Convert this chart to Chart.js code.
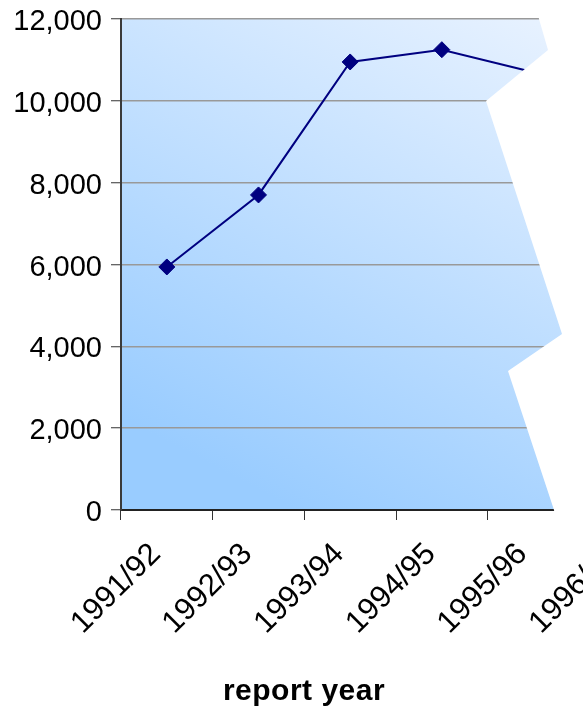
<!DOCTYPE html>
<html>
<head>
<meta charset="utf-8">
<script src="https://cdn.jsdelivr.net/npm/chart.js@4/dist/chart.umd.min.js"></script>
<style>
  html, body { margin: 0; padding: 0; background: #ffffff; overflow: hidden; width: 583px; height: 708px; }
  #wrap { position: relative; width: 700px; height: 708px; }
</style>
</head>
<body>
<div id="wrap"><canvas id="chart"></canvas></div>
<script>
// Report years along the category axis (the last one runs off the torn edge)
const reportYears = ['1991/92', '1992/93', '1993/94', '1994/95', '1995/96', '1996/97'];
// Reports received per year
const reportCounts = [5940, 7700, 10950, 11250, 10700, null];
// Value axis ticks
const yTickValues = [0, 2000, 4000, 6000, 8000, 10000, 12000];
const xAxisTitle = 'report year';

const FONT = '"Liberation Sans", Arial, sans-serif';

// Blue gradient behind the plot area, light at the upper right, deeper at the lower left
const plotBackground = {
  id: 'plotBackground',
  beforeDraw(chart) {
    const { ctx, chartArea: a } = chart;
    const w = a.right - a.left, h = a.bottom - a.top;
    const g = ctx.createLinearGradient(a.left + 0.79 * w, a.top, a.left + 0.32 * w, a.bottom);
    g.addColorStop(0, '#e8f2ff');
    g.addColorStop(1, '#99ccff');
    ctx.save();
    ctx.fillStyle = g;
    ctx.fillRect(a.left, a.top, w, h);
    ctx.restore();
  }
};

// Jagged torn-paper edge cutting off the right-hand side of the plot
const tornEdge = {
  id: 'tornEdge',
  afterDatasetsDraw(chart) {
    const { ctx, width } = chart;
    const pts = [[536, 0], [539, 19], [548, 50], [486, 101], [562, 334], [508, 371], [554, 510], [556, 524], [width, 524], [width, 0]];
    ctx.save();
    ctx.fillStyle = '#ffffff';
    ctx.beginPath();
    pts.forEach(([x, y], i) => (i ? ctx.lineTo(x, y) : ctx.moveTo(x, y)));
    ctx.closePath();
    ctx.fill();
    ctx.restore();
  }
};

// Category axis caption
const axisCaption = {
  id: 'axisCaption',
  afterDraw(chart) {
    const { ctx } = chart;
    ctx.save();
    ctx.font = 'bold 30px ' + FONT;
    if ('letterSpacing' in ctx) ctx.letterSpacing = '0.5px';
    ctx.fillStyle = '#000000';
    ctx.textAlign = 'center';
    ctx.textBaseline = 'alphabetic';
    ctx.fillText(xAxisTitle, 304, 700);
    ctx.restore();
  }
};

new Chart(document.getElementById('chart'), {
  type: 'line',
  data: {
    labels: reportYears,
    datasets: [{
      data: reportCounts,
      borderColor: '#000080',
      backgroundColor: '#000080',
      borderWidth: 2,
      pointStyle: 'rectRot',
      pointRadius: 8,
      pointHoverRadius: 8,
      pointBorderWidth: 1,
      tension: 0,
      fill: false
    }]
  },
  options: {
    responsive: true,
    maintainAspectRatio: false,
    animation: false,
    devicePixelRatio: 1,
    layout: { padding: { top: 19, right: 29, bottom: 0, left: 0 } },
    plugins: { legend: { display: false }, tooltip: { enabled: false } },
    scales: {
      x: {
        type: 'category',
        offset: true,
        afterFit(s) { s.height = 198; },
        grid: { offset: true, drawOnChartArea: false, drawTicks: true, tickLength: 10, tickColor: '#333333', tickWidth: 1 },
        border: { color: '#222222', width: 2 },
        ticks: {
          autoSkip: false,
          minRotation: 45,
          maxRotation: 45,
          padding: 16,
          labelOffset: -11,
          color: '#000000',
          font: { family: FONT, size: 31 }
        }
      },
      y: {
        min: 0,
        max: 12000,
        afterFit(s) { s.width = 121; s.paddingTop = 0; s.paddingBottom = 0; },
        afterBuildTicks(s) { s.ticks = yTickValues.map(v => ({ value: v })); },
        grid: { color: '#999999', lineWidth: 1.5, tickLength: 10, tickColor: '#333333', tickWidth: 1 },
        border: { color: '#3a3a3a', width: 2 },
        ticks: {
          padding: 9,
          labelOffset: 3,
          color: '#000000',
          font: { family: FONT, size: 29 },
          callback: v => Number(v).toLocaleString('en-US')
        }
      }
    }
  },
  plugins: [plotBackground, tornEdge, axisCaption]
});
</script>
</body>
</html>
